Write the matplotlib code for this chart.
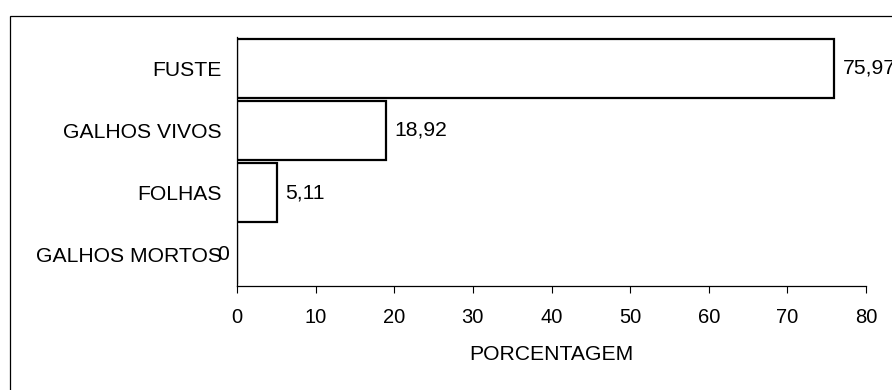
import matplotlib
matplotlib.use("Agg")
import matplotlib.pyplot as plt
from matplotlib.patches import Rectangle

categories = ["FUSTE", "GALHOS VIVOS", "FOLHAS", "GALHOS MORTOS"]
values = [75.97, 18.92, 5.11, 0.0]
value_labels = ["75,97", "18,92", "5,11", "0"]
xticks = [0, 10, 20, 30, 40, 50, 60, 70, 80]
xlabel = "PORCENTAGEM"

plt.rcParams['font.family'] = ['Liberation Sans', 'DejaVu Sans']

fig = plt.figure(figsize=(8.92, 3.90), dpi=100)
W, H = 892, 390
ax = fig.add_axes([237 / W, (H - 286) / H, (866 - 237) / W, (286 - 37) / H])

ypos = list(range(len(categories)))
ax.barh(ypos, values, height=0.95, color="white", edgecolor="black", linewidth=1.6)
ax.set_ylim(len(categories) - 0.5, -0.5)
ax.set_xlim(0, 80)
ax.set_xticks(xticks)
ax.set_xticklabels([str(t) for t in xticks], fontsize=14.5)
ax.set_yticks(ypos)
ax.set_yticklabels(categories, fontsize=15.2)
ax.tick_params(axis="y", length=0, pad=11)
ax.tick_params(axis="x", length=5, width=0.8, direction="out", pad=11)
ax.set_xlabel(xlabel, fontsize=15.2, labelpad=13)

for s in ["top", "right"]:
    ax.spines[s].set_visible(False)
for s in ["left", "bottom"]:
    ax.spines[s].set_linewidth(0.9)

for y, v, lab in zip(ypos, values, value_labels):
    off = 6 if v > 0 else -14.5
    ax.annotate(lab, xy=(v, y), xytext=(off, 0), textcoords="offset points",
                ha="left", va="center", fontsize=15.2, annotation_clip=False)

fig.patches.append(Rectangle((10 / W, -0.1), 1.2, (H - 16) / H + 0.1,
                             transform=fig.transFigure, fill=False,
                             edgecolor="black", linewidth=0.9))

fig.savefig("out.png", dpi=100)
